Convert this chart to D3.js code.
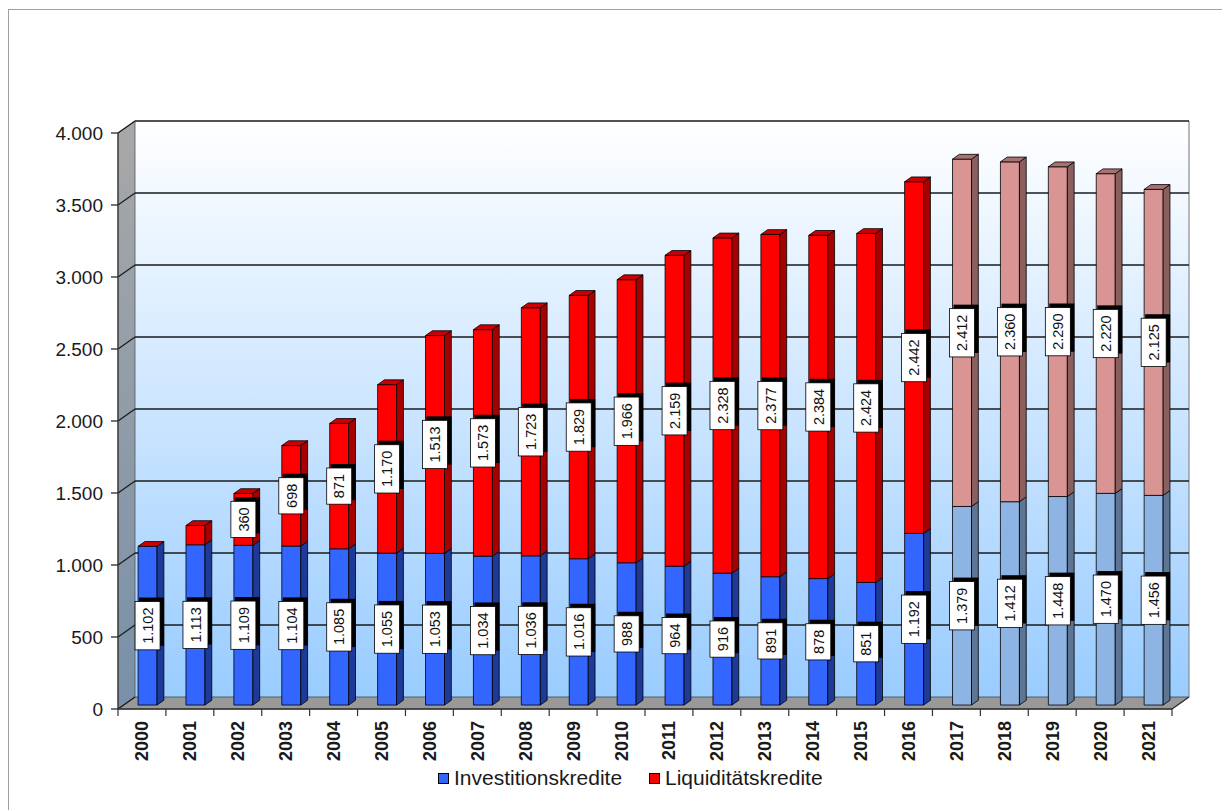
<!DOCTYPE html>
<html><head><meta charset="utf-8">
<script src="https://cdn.jsdelivr.net/npm/d3@7"></script>
<style>body{margin:0;background:#fff}svg{display:block;font-family:"Liberation Sans",Arial,sans-serif}</style>
</head><body><svg id="c" width="1222" height="810"></svg>
<script>
const years = ["2000","2001","2002","2003","2004","2005","2006","2007","2008","2009","2010","2011","2012","2013","2014","2015","2016","2017","2018","2019","2020","2021"];
const investitionskredite = [1102,1113,1109,1104,1085,1055,1053,1034,1036,1016,988,964,916,891,878,851,1192,1379,1412,1448,1470,1456];
const liquiditaetskredite = [0,134,360,698,871,1170,1513,1573,1723,1829,1966,2159,2328,2377,2384,2424,2442,2412,2360,2290,2220,2125];
const forecastYears = ["2017","2018","2019","2020","2021"];
const yTicks = [0,500,1000,1500,2000,2500,3000,3500,4000];
const seriesNames = ["Investitionskredite","Liquiditätskredite"];

const svg = d3.select("#c");
const loc = d3.formatLocale({decimal:",",thousands:".",grouping:[3],currency:["","€"]});
const fmt = loc.format(",d");

const DX = 17, DY = 12;
const y = d3.scaleLinear().domain([0,4000]).range([709,133]);
const x = d3.scaleBand().domain(years).range([118,1172]).padding(0);
const bw = x.bandwidth(), barW = 19, f1 = 0.33, f2 = 0.73;

const colors = {
  actual: [{front:"#3366ff",side:"#1d3a99",top:"#2a55d8"},{front:"#ff0000",side:"#a80000",top:"#cc0000"}],
  forecast: [{front:"#8eb4e3",side:"#5d7696",top:"#7493bb"},{front:"#d99594",side:"#8c5f5f",top:"#a87270"}]
};

const defs = svg.append("defs");
const g1 = defs.append("linearGradient").attr("id","wall").attr("x1",0).attr("y1",0).attr("x2",0).attr("y2",1);
g1.append("stop").attr("offset","0%").attr("stop-color","#ffffff");
g1.append("stop").attr("offset","100%").attr("stop-color","#99ccff");
const g2 = defs.append("linearGradient").attr("id","lwall").attr("x1",0).attr("y1",0).attr("x2",0).attr("y2",1);
g2.append("stop").attr("offset","0%").attr("stop-color","#a8a8a8");
g2.append("stop").attr("offset","100%").attr("stop-color","#7890a8");

// outer border
svg.append("rect").attr("x",8.5).attr("y",9.5).attr("width",1400).attr("height",1000).attr("fill","none").attr("stroke","#a0a0a0");

const y0 = y(0), yTop = y(4000), xL = x.range()[0], xR = x.range()[1];
// back wall
svg.append("rect").attr("x",xL+DX).attr("y",yTop-DY).attr("width",xR-xL).attr("height",y0-yTop)
  .attr("fill","url(#wall)");
// left wall
svg.append("polygon").attr("points",[[xL,yTop],[xL,y0],[xL+DX,y0-DY],[xL+DX,yTop-DY]].join(" "))
  .attr("fill","url(#lwall)").attr("stroke","#555").attr("stroke-width",0.8);
// floor
svg.append("polygon").attr("points",[[xL,y0],[xR,y0],[xR+DX,y0-DY],[xL+DX,y0-DY]].join(" "))
  .attr("fill","#999999").attr("stroke","#444").attr("stroke-width",0.8);
// right edge of back wall
svg.append("line").attr("x1",xR+DX).attr("x2",xR+DX).attr("y1",yTop-DY).attr("y2",y0-DY).attr("stroke","#8a8a8a").attr("stroke-width",1.2);

// gridlines
yTicks.forEach(t=>{
  const yy = y(t);
  if (t>0) svg.append("line").attr("x1",xL+DX).attr("x2",xR+DX).attr("y1",yy-DY).attr("y2",yy-DY).attr("stroke","#1a1a1a").attr("stroke-width",1.3);
  svg.append("line").attr("x1",xL).attr("x2",xL+DX).attr("y1",yy).attr("y2",yy-DY).attr("stroke","#1a1a1a").attr("stroke-width",1.2);
  svg.append("line").attr("x1",xL-7).attr("x2",xL).attr("y1",yy).attr("y2",yy).attr("stroke","#1a1a1a").attr("stroke-width",1.2);
  svg.append("text").attr("x",xL-15).attr("y",yy).attr("dy","0.35em").attr("text-anchor","end")
    .attr("font-size",19).attr("fill","#1a1a1a").text(fmt(t));
});
// front y axis line
svg.append("line").attr("x1",xL).attr("x2",xL).attr("y1",yTop).attr("y2",y0).attr("stroke","#333").attr("stroke-width",1.2);
// x axis front line and ticks
svg.append("line").attr("x1",xL).attr("x2",xR).attr("y1",y0).attr("y2",y0).attr("stroke","#333").attr("stroke-width",1.4);
svg.append("line").attr("x1",xR).attr("x2",xR+DX).attr("y1",y0).attr("y2",y0-DY).attr("stroke","#333").attr("stroke-width",1.2);
years.concat(["end"]).forEach((c,i)=>{
  const xx = xL + i*bw;
  svg.append("line").attr("x1",xx).attr("x2",xx).attr("y1",y0).attr("y2",y0+7).attr("stroke","#333").attr("stroke-width",1.2);
});
years.forEach(c=>{
  const cx = x(c)+bw/2;
  svg.append("text").attr("transform",`translate(${cx},721) rotate(-90)`).attr("dy","0.36em")
    .attr("text-anchor","end").attr("font-size",18).attr("font-weight","bold").attr("fill","#1a1a1a").text(c);
});

// bars
const ddx = DX*(f2-f1), ddy = DY*(f2-f1);
const labels = [];
years.forEach((c,i)=>{
  const phase = forecastYears.includes(c) ? "forecast" : "actual";
  const vals = [investitionskredite[i], liquiditaetskredite[i]];
  let base = 0;
  const xl = x(c) + (bw-barW)/2 + DX*f1, xr = xl + barW;
  vals.forEach((v,s)=>{
    const col = colors[phase][s];
    const yb = y(base) - DY*f1, yt = y(base+v) - DY*f1;
    const g = svg.append("g").attr("stroke","#000").attr("stroke-width",0.8).attr("stroke-linejoin","round");
    if (v>0) {
      g.append("rect").attr("x",xl).attr("y",yt).attr("width",barW).attr("height",yb-yt).attr("fill",col.front);
      g.append("polygon").attr("points",[[xr,yt],[xr+ddx,yt-ddy],[xr+ddx,yb-ddy],[xr,yb]].join(" ")).attr("fill",col.side);
    }
    if (s===vals.length-1 || v===0) {
      g.append("polygon").attr("points",[[xl,yt],[xr,yt],[xr+ddx,yt-ddy],[xl+ddx,yt-ddy]].join(" ")).attr("fill",col.top);
    }
    if (v>=200) labels.push({x:(xl+xr)/2, y:(y(base+v/2)-DY*f1), t:fmt(v)});
    base += v;
  });
});

// data labels
labels.forEach(l=>{
  const g = svg.append("g");
  const shadow = g.append("rect"), box = g.append("rect");
  const txt = g.append("text").attr("transform",`translate(${l.x},${l.y}) rotate(-90)`).attr("dy","0.36em")
    .attr("text-anchor","middle").attr("font-size",14.5).attr("fill","#111").text(l.t);
  const len = txt.node().getComputedTextLength();
  const h = len + 12, w = 25;
  shadow.attr("x",l.x-w/2+4).attr("y",l.y-h/2-4).attr("width",w).attr("height",h).attr("fill","#000");
  box.attr("x",l.x-w/2).attr("y",l.y-h/2).attr("width",w).attr("height",h).attr("fill","#fff").attr("stroke","#000").attr("stroke-width",0.8);
});

// legend
const leg = [{x:438,c:colors.actual[0].front},{x:649,c:colors.actual[1].front}];
leg.forEach((l,i)=>{
  svg.append("rect").attr("x",l.x+0.5).attr("y",773.5).attr("width",10).attr("height",10).attr("fill",l.c).attr("stroke","#000").attr("stroke-width",1);
  svg.append("text").attr("x",l.x+16).attr("y",785).attr("font-size",21).attr("fill","#1a1a1a").text(seriesNames[i]);
});
</script></body></html>
